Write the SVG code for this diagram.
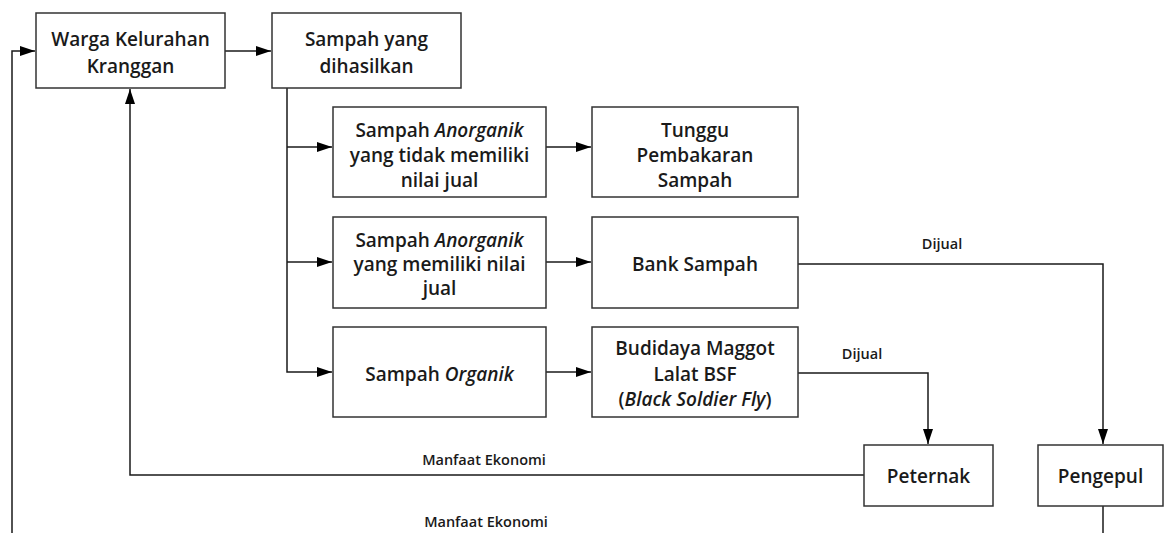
<svg xmlns="http://www.w3.org/2000/svg" width="1164" height="533" viewBox="0 0 1164 533">
<style>
.box{fill:#fff;stroke:#333;stroke-width:1.5}
.t{font-family:"Open Sans","Liberation Sans",sans-serif;font-weight:600;font-size:19px;fill:#1a1a1a;text-anchor:middle}
.s{font-family:"Open Sans","Liberation Sans",sans-serif;font-weight:600;font-size:14.5px;fill:#1a1a1a;text-anchor:middle}
.c{fill:none;stroke:#1a1a1a;stroke-width:1.5}
</style>
<defs>
<marker id="ah" markerUnits="userSpaceOnUse" markerWidth="16" markerHeight="12" refX="15" refY="5" orient="auto">
<path d="M0,0 L15,5 L0,10 z" fill="#000"/>
</marker>
</defs>
<rect width="1164" height="533" fill="#fff"/>
<g id="connectors">
<path class="c" d="M225,51 H271" marker-end="url(#ah)"/>
<path class="c" d="M12,533 V51 H35" marker-end="url(#ah)"/>
<path class="c" d="M864,475 H130 V89" marker-end="url(#ah)"/>
<path class="c" d="M287,88 V372 H332" marker-end="url(#ah)"/>
<path class="c" d="M287,147 H332" marker-end="url(#ah)"/>
<path class="c" d="M287,262 H332" marker-end="url(#ah)"/>
<path class="c" d="M546,147 H591" marker-end="url(#ah)"/>
<path class="c" d="M546,262 H591" marker-end="url(#ah)"/>
<path class="c" d="M546,372 H591" marker-end="url(#ah)"/>
<path class="c" d="M798,264 H1103 V444" marker-end="url(#ah)"/>
<path class="c" d="M798,373 H928 V444" marker-end="url(#ah)"/>
<path class="c" d="M1103,506 V533"/>
<text class="s" x="942" y="249">Dijual</text>
<text class="s" x="862" y="359">Dijual</text>
<text class="s" x="484" y="465">Manfaat Ekonomi</text>
<text class="s" x="486" y="527">Manfaat Ekonomi</text>
</g>
<g id="warga">
<rect class="box" x="36" y="13" width="189" height="75"/>
<text class="t" x="130.5" y="46">Warga Kelurahan</text>
<text class="t" x="130.5" y="73">Kranggan</text>
</g>
<g id="sampah">
<rect class="box" x="272" y="13" width="189" height="75"/>
<text class="t" x="366.5" y="46">Sampah yang</text>
<text class="t" x="366.5" y="73">dihasilkan</text>
</g>
<g id="anorganik-tidak">
<rect class="box" x="333" y="107" width="213" height="90"/>
<text class="t" x="439.5" y="137">Sampah <tspan font-style="italic">Anorganik</tspan></text>
<text class="t" x="439.5" y="162">yang tidak memiliki</text>
<text class="t" x="439.5" y="187">nilai jual</text>
</g>
<g id="pembakaran">
<rect class="box" x="592" y="107" width="206" height="90"/>
<text class="t" x="695" y="137">Tunggu</text>
<text class="t" x="695" y="162">Pembakaran</text>
<text class="t" x="695" y="187">Sampah</text>
</g>
<g id="anorganik-jual">
<rect class="box" x="333" y="217" width="213" height="91"/>
<text class="t" x="439.5" y="247">Sampah <tspan font-style="italic">Anorganik</tspan></text>
<text class="t" x="439.5" y="271">yang memiliki nilai</text>
<text class="t" x="439.5" y="295">jual</text>
</g>
<g id="bank">
<rect class="box" x="592" y="217" width="206" height="91"/>
<text class="t" x="695" y="271">Bank Sampah</text>
</g>
<g id="organik">
<rect class="box" x="333" y="327" width="213" height="90"/>
<text class="t" x="439.5" y="381">Sampah <tspan font-style="italic">Organik</tspan></text>
</g>
<g id="maggot">
<rect class="box" x="592" y="327" width="206" height="90"/>
<text class="t" x="695" y="355">Budidaya Maggot</text>
<text class="t" x="695" y="381">Lalat BSF</text>
<text class="t" x="695" y="406">(<tspan font-style="italic">Black Soldier Fly</tspan>)</text>
</g>
<g id="peternak">
<rect class="box" x="864" y="445" width="129" height="61"/>
<text class="t" x="928.5" y="483">Peternak</text>
</g>
<g id="pengepul">
<rect class="box" x="1038" y="445" width="125" height="61"/>
<text class="t" x="1100.5" y="483">Pengepul</text>
</g>
</svg>
